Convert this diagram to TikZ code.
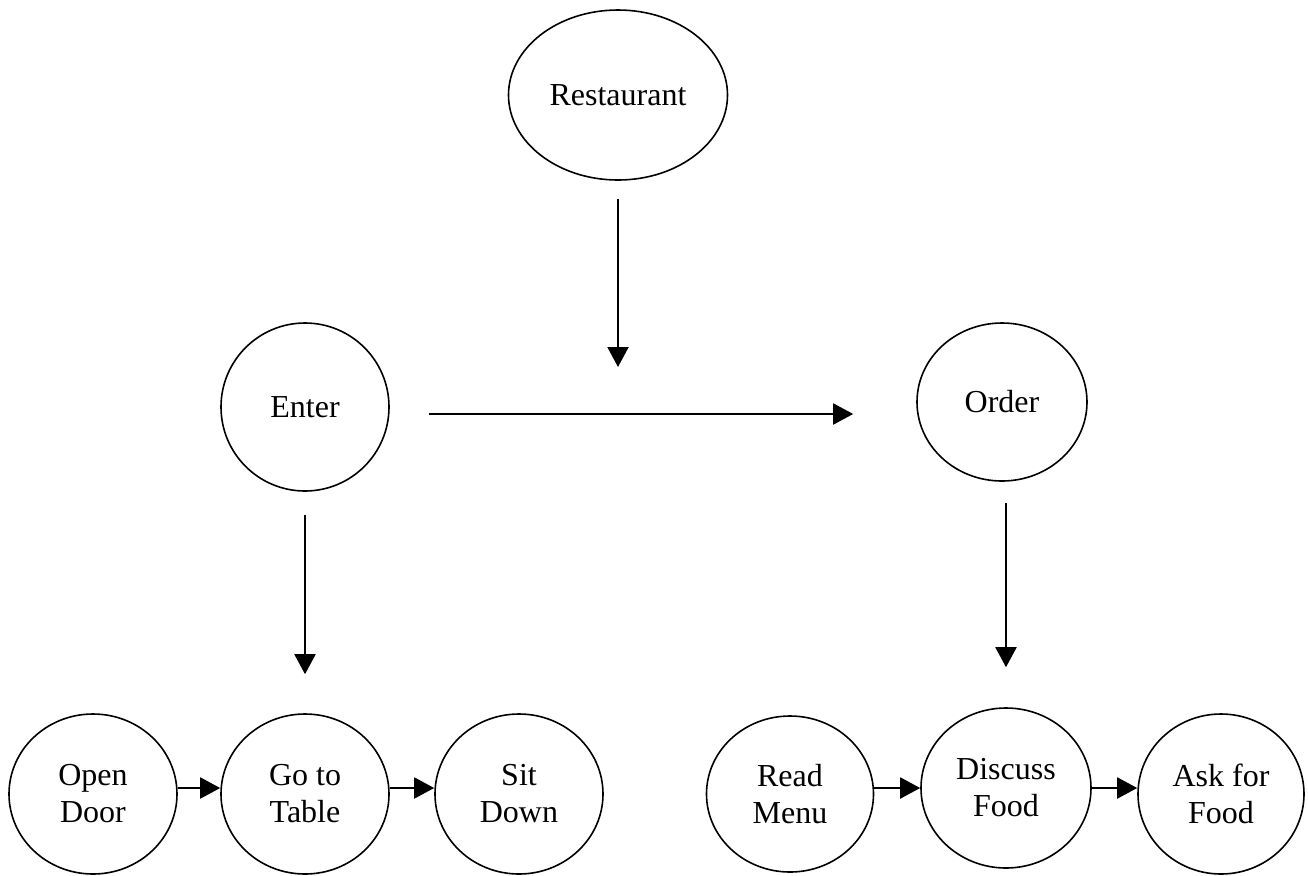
\documentclass[tikz,border=0pt]{standalone}
\usepackage{fontspec}
\setmainfont{Liberation Serif}
\usetikzlibrary{arrows.meta,shapes.geometric}
\tikzset{>={Triangle[width=10.5pt,length=10pt]}}

\begin{document}
\begin{tikzpicture}[x=0.5pt, y=-0.5pt,
    state/.style={draw, ellipse, line width=0.8pt, inner sep=0pt, align=center,
      minimum width=84pt, minimum height=80pt,
      font=\fontsize{16}{18.5}\selectfont},
    flow/.style={->, line width=1pt}]
  \useasboundingbox (0,0) rectangle (1308,875);

  \newcommand\Row{794};

  %% top level
  \node[state, minimum width=109.5pt, minimum height=85pt] (rest) at (618,95) {Restaurant};
  \coordinate (join) at (618,367);

  %% scenes
  \node[state, minimum height=84pt] (enter) at (305,407) {Enter};
  \node[state, minimum width=85pt, minimum height=79pt] (order) at (1002,402) {Order};

  %% steps of enter
  \node[state] (door)  at (93,\Row)  {Open\\Door};
  \node[state] (table) at (305,\Row) {Go to\\Table};
  \node[state] (sit)   at (519,\Row) {Sit\\Down};

  %% steps of order
  \node[state, minimum width=83.5pt, minimum height=78pt] (menu) at (790,\Row) {Read\\Menu};
  \node[state, minimum width=85pt] (discuss) at (1006,788) {Discuss\\Food};
  \node[state, minimum width=83pt] (ask) at (1221,\Row) {Ask for\\Food};

  \draw[flow, shorten <=9pt](rest.south) -- (join);
  \draw[flow, shorten <=19.5pt, shorten >=31.5pt]([yshift=-3.5pt]enter.east) -- ([yshift=-6pt]order.west);

  \draw[flow, shorten <=11.5pt, shorten >=19.5pt](enter.south) -- (table.north);
  \draw[flow, shorten <=10.5pt, shorten >=20pt]([xshift=2pt]order.south) -- (discuss.north);

  \draw[flow]([yshift=3pt]door.east) -- ([yshift=3pt]table.west);  %% door -> table
  \draw[flow]([yshift=3pt]table.east) -- ([yshift=3pt]sit.west);   %% table -> sit
  \draw[flow]([yshift=3pt]menu.east) -- (discuss.west);             %% menu -> discuss
  \draw[flow](discuss.east) -- ([yshift=3pt]ask.west);              %% discuss -> ask
\end{tikzpicture}
\end{document}
